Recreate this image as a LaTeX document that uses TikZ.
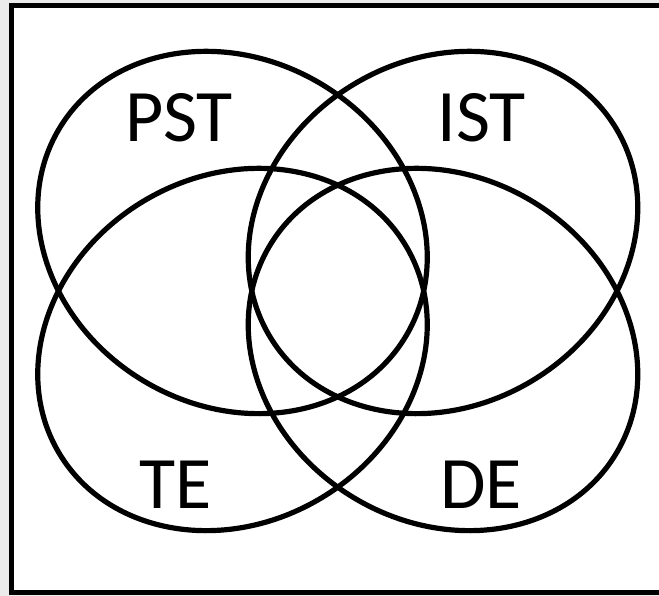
\documentclass[tikz,border=0pt]{standalone}
\usepackage{fontspec}
\setmainfont{Carlito}
\usepackage{tikz}
\usetikzlibrary{calc}
\tikzset{
	setline/.style={
			draw=black,
			line width=5.2pt
		},
	framebox/.style={
			draw=black,
			fill=white,
			line width=5pt
		},
	setlabel/.style={
			font=\fontsize{74}{80}\selectfont,
			inner sep=0pt,
			anchor=base
		}
}

\begin{document}
\begin{tikzpicture}[x=1pt, y=1pt]
\useasboundingbox (0,0) rectangle (659,596);
\fill[black!8] (0,0) rectangle (659,596);
\filldraw[framebox] (11.7,3) rectangle (665,590);

\coordinate (cPST) at (232.5,363.5);
\coordinate (cIST) at (443,363.5);
\coordinate (cTE) at (232.5,246.5);
\coordinate (cDE) at (443,246.5);

\draw[setline, rotate around={-31:(cPST)}] (cPST) ellipse [x radius=202pt, y radius=173pt];
\draw[setline, rotate around={31:(cIST)}] (cIST) ellipse [x radius=202pt, y radius=173pt];
\draw[setline, rotate around={31:(cTE)}] (cTE) ellipse [x radius=202pt, y radius=173pt];
\draw[setline, rotate around={-31:(cDE)}] (cDE) ellipse [x radius=202pt, y radius=173pt];

\node[setlabel] (lPST) at (179,454.3) {PST};
\node[setlabel] (lIST) at (481.5,454.3) {IST};
\node[setlabel] (lTE) at (176,87.7) {TE};
\node[setlabel] (lDE) at (481,87.7) {DE};
\end{tikzpicture}
\end{document}
